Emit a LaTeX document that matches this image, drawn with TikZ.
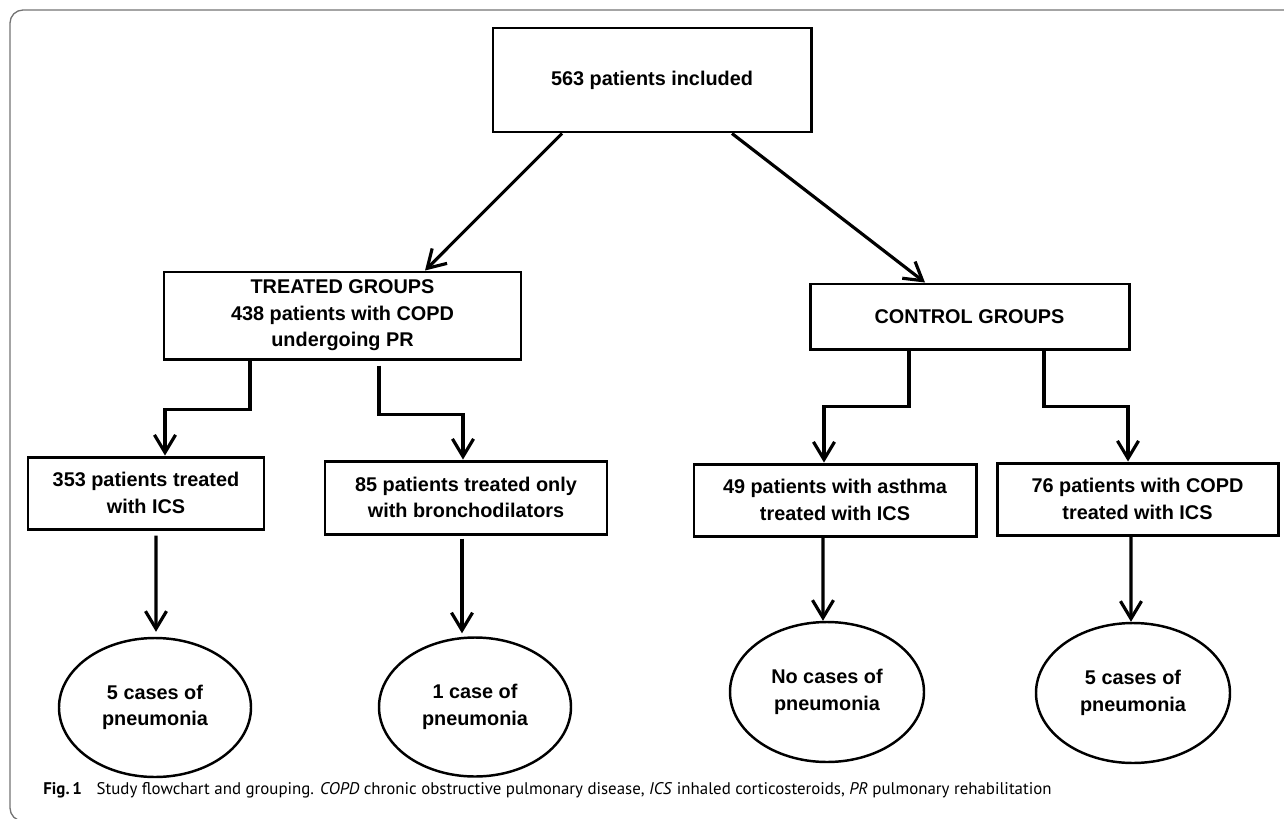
\documentclass[tikz,border=0pt]{standalone}
\usepackage{fontspec}
\setmainfont{Liberation Sans}
\newfontfamily\captionfont{PT Sans}
\usetikzlibrary{shapes.geometric, arrows.meta, positioning, calc}

\begin{document}
\begin{tikzpicture}[
  groupbox/.style={draw, rectangle, line width=1.7pt, align=center, inner sep=2pt, font=\fontsize{11.3}{15}\selectfont\bfseries},
  casebubble/.style={draw, ellipse, line width=1.4pt, align=center, inner sep=0pt, font=\fontsize{11.3}{15}\selectfont\bfseries},
  flowarrow/.style={line width=1.8pt, -{Straight Barb[length=10pt, width=12pt]}}
]
  % page and frame
  \useasboundingbox (0,0) rectangle (25.68,-16.36);
  \clip (0,0) rectangle (25.68,-16.36);
  \draw[black!55, line width=0.75pt, rounded corners=0.26cm] (0.2,-0.2) rectangle (26.5,-16.42);

  % Study flowchart
  \node[groupbox, minimum width=6.36cm, minimum height=2.08cm] (included) at (13.04,-1.60) {563 patients included};

  \node[groupbox, minimum width=7.14cm, minimum height=1.74cm] (treated) at (6.85,-6.31) {TREATED GROUPS\\438 patients with COPD\\undergoing PR};
  \node[groupbox, minimum width=6.38cm, minimum height=1.30cm] (control) at (19.39,-6.33) {CONTROL GROUPS};

  \node[groupbox, minimum width=4.72cm, minimum height=1.44cm] (ics353) at (2.92,-9.86) {353 patients treated\\with ICS};
  \node[groupbox, minimum width=5.64cm, minimum height=1.46cm] (bd85) at (9.32,-9.95) {85 patients treated only\\with bronchodilators};
  \node[groupbox, minimum width=5.64cm, minimum height=1.44cm] (asthma49) at (16.70,-10.00) {49 patients with asthma\\treated with ICS};
  \node[groupbox, minimum width=5.62cm, minimum height=1.44cm] (copd76) at (22.75,-9.98) {76 patients with COPD\\treated with ICS};

  \node[casebubble, minimum width=3.84cm, minimum height=2.78cm] (pn353) at (3.10,-14.15) {5 cases of\\pneumonia};
  \node[casebubble, minimum width=3.84cm, minimum height=2.78cm] (pn85) at (9.50,-14.14) {1 case of\\pneumonia};
  \node[casebubble, minimum width=3.88cm, minimum height=2.80cm] (pn49) at (16.54,-13.84) {No cases of\\pneumonia};
  \node[casebubble, minimum width=3.88cm, minimum height=2.80cm] (pn76) at (22.66,-13.86) {5 cases of\\pneumonia};

  \draw[flowarrow] ([xshift=-1.8cm]included.south) -- ([xshift=1.65cm]treated.north);
  \draw[flowarrow] ([xshift=1.6cm]included.south) -- ([xshift=-0.89cm]control.north);

  \draw[flowarrow] ([xshift=-1.85cm]treated.south) -- ++(0,-0.98) -| ([xshift=0.38cm]ics353.north);
  \draw[flowarrow] ([xshift=0.73cm,yshift=-0.1cm]treated.south) -- ++(0,-0.98) -| ([xshift=-0.06cm]bd85.north);
  \draw[flowarrow] ([xshift=-1.21cm]control.south) -- ++(0,-1.12) -| ([xshift=-0.22cm]asthma49.north);
  \draw[flowarrow] ([xshift=1.49cm]control.south) -- ++(0,-1.12) -| ([xshift=-0.19cm]copd76.north);

  \draw[flowarrow] ([xshift=0.2cm,yshift=-0.1cm]ics353.south) -- ([xshift=0.02cm,yshift=0.1cm]pn353.north);
  \draw[flowarrow] ([xshift=-0.08cm,yshift=-0.06cm]bd85.south) -- ([xshift=-0.26cm,yshift=0.06cm]pn85.north);
  \draw[flowarrow] ([xshift=-0.24cm]asthma49.south) -- ([xshift=-0.08cm]pn49.north);
  \draw[flowarrow] ([xshift=-0.13cm]copd76.south) -- ([xshift=-0.04cm]pn76.north);

  % caption
  \node[anchor=west, inner sep=0pt, font=\captionfont\fontsize{9.6}{11}\selectfont] (figcaption) at (0.86,-15.80)
    {\textbf{Fig.\,1}\hspace{0.6em} Study flowchart and grouping. \textit{COPD} chronic obstructive pulmonary disease, \textit{ICS} inhaled corticosteroids, \textit{PR} pulmonary rehabilitation};
\end{tikzpicture}
\end{document}
